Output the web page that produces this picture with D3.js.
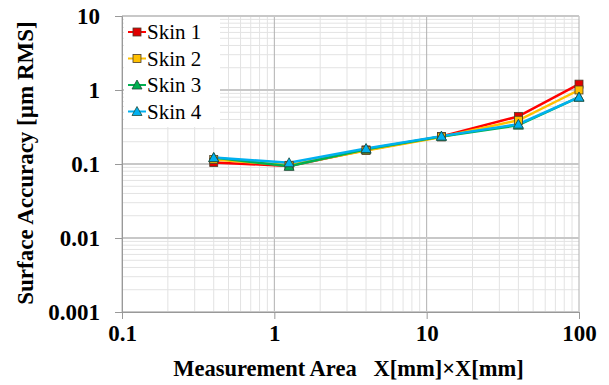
<!DOCTYPE html>
<html>
<head>
<script src="https://d3js.org/d3.v7.min.js"></script>
<style>
  body { margin: 0; background: #fff; }
</style>
</head>
<body>
<div id="chart"></div>
<script>
  // measurement areas (mm) and RMS accuracy per skin
  var areas = [0.4, 1.25, 4, 12.5, 40, 100];
  var skin1 = [0.105, 0.094, 0.155, 0.235, 0.44, 1.2];
  var skin2 = [0.115, 0.096, 0.152, 0.232, 0.39, 1.0];
  var skin3 = [0.122, 0.093, 0.158, 0.236, 0.335, 0.8];
  var skin4 = [0.122, 0.104, 0.162, 0.238, 0.345, 0.8];
  var seriesNames = ["Skin 1", "Skin 2", "Skin 3", "Skin 4"];
  var xTicks = [0.1, 1, 10, 100];
  var yTicks = [0.001, 0.01, 0.1, 1, 10];

  var serif = "'Liberation Serif', Tinos, 'Times New Roman', 'DejaVu Serif', serif";

  var series = [
    { name: seriesNames[0], values: skin1, color: "#ff0000", fill: "#e00000", shape: "square" },
    { name: seriesNames[1], values: skin2, color: "#ffc000", fill: "#ffc000", shape: "square" },
    { name: seriesNames[2], values: skin3, color: "#00b050", fill: "#00b050", shape: "triangle" },
    { name: seriesNames[3], values: skin4, color: "#00b0f0", fill: "#00b0f0", shape: "triangle" }
  ];

  var W = 609, H = 385;
  var margin = { top: 16, right: 30, bottom: 73, left: 122 };
  var width = W - margin.left - margin.right;
  var height = H - margin.top - margin.bottom;

  var svg = d3.select("#chart").append("svg")
    .attr("width", W).attr("height", H);
  var g = svg.append("g")
    .attr("transform", "translate(" + margin.left + "," + margin.top + ")");

  var x = d3.scaleLog().domain([0.1, 100]).range([0, width]);
  var y = d3.scaleLog().domain([0.001, 10]).range([height, 0]);

  // minor grid
  var minorX = [], minorY = [];
  [0.1, 1, 10].forEach(function(d) {
    for (var k = 2; k <= 9; k++) minorX.push(d * k);
  });
  [0.001, 0.01, 0.1, 1].forEach(function(d) {
    for (var k = 2; k <= 9; k++) minorY.push(d * k);
  });

  g.selectAll(".mx").data(minorX).enter().append("line")
    .attr("x1", function(d) { return x(d); }).attr("x2", function(d) { return x(d); })
    .attr("y1", 0).attr("y2", height)
    .attr("stroke", "#e3e3e3").attr("stroke-width", 1);
  g.selectAll(".my").data(minorY).enter().append("line")
    .attr("y1", function(d) { return y(d); }).attr("y2", function(d) { return y(d); })
    .attr("x1", 0).attr("x2", width)
    .attr("stroke", "#e3e3e3").attr("stroke-width", 1);

  // major grid
  g.selectAll(".Mx").data(xTicks).enter().append("line")
    .attr("x1", function(d) { return x(d); }).attr("x2", function(d) { return x(d); })
    .attr("y1", 0).attr("y2", height)
    .attr("stroke", "#b0b0b0").attr("stroke-width", 1);
  g.selectAll(".My").data(yTicks).enter().append("line")
    .attr("y1", function(d) { return y(d); }).attr("y2", function(d) { return y(d); })
    .attr("x1", 0).attr("x2", width)
    .attr("stroke", "#c8c8c8").attr("stroke-width", 2);

  var fmt = function(d) { return String(d); };

  var xAxis = g.append("g")
    .attr("transform", "translate(0," + height + ")")
    .call(d3.axisBottom(x).tickValues(xTicks).tickFormat(fmt).tickSize(7).tickPadding(6));
  var yAxis = g.append("g")
    .call(d3.axisLeft(y).tickValues(yTicks).tickFormat(fmt).tickSize(7).tickPadding(15));

  [xAxis, yAxis].forEach(function(a) {
    a.attr("font-family", null);
    a.select(".domain").attr("stroke", "#999");
    a.selectAll(".tick line").attr("stroke", "#999");
    a.selectAll("text")
      .attr("fill", "#000")
      .style("font-size", "23px")
      .style("font-weight", "bold")
      .style("font-family", serif);
  });

  // lines
  var line = d3.line()
    .x(function(d, i) { return x(areas[i]); })
    .y(function(d) { return y(d); });

  series.forEach(function(s) {
    g.append("path")
      .datum(s.values)
      .attr("fill", "none")
      .attr("stroke", s.color)
      .attr("stroke-width", 2.5)
      .attr("d", line);
  });

  function marker(sel, s) {
    if (s.shape === "square") {
      sel.append("rect")
        .attr("x", -4).attr("y", -4).attr("width", 8).attr("height", 8)
        .attr("fill", s.fill).attr("stroke", "#4a3a2a").attr("stroke-width", 0.8);
    } else {
      sel.append("path")
        .attr("d", "M0,-5L5,4L-5,4Z")
        .attr("fill", s.fill).attr("stroke", "#1f4a3a").attr("stroke-width", 0.8);
    }
  }

  series.forEach(function(s) {
    s.values.forEach(function(v, i) {
      var m = g.append("g")
        .attr("transform", "translate(" + x(areas[i]) + "," + y(v) + ")");
      marker(m, s);
    });
  });

  // legend
  var leg = g.append("g").attr("transform", "translate(2,1)");
  leg.append("rect")
    .attr("x", 0).attr("y", 0).attr("width", 96).attr("height", 110)
    .attr("fill", "#fff");
  series.forEach(function(s, i) {
    var row = leg.append("g").attr("transform", "translate(0," + (15 + i * 26.5) + ")");
    row.append("line").attr("x1", 4).attr("x2", 22).attr("y1", 0).attr("y2", 0)
      .attr("stroke", s.color).attr("stroke-width", 2);
    var m = row.append("g").attr("transform", "translate(13,0)");
    marker(m, s);
    row.append("text").attr("x", 23).attr("y", 7)
      .style("font-family", serif)
      .style("font-weight", "normal")
      .style("font-size", "21px").text(s.name);
  });

  // axis titles
  svg.append("text")
    .attr("x", margin.left + width / 2 - 2).attr("y", H - 9)
    .attr("text-anchor", "middle")
    .style("font-family", serif)
    .style("font-size", "22.5px").style("font-weight", "bold")
    .attr("xml:space", "preserve")
    .text("Measurement Area   X[mm]\u00d7X[mm]");

  svg.append("text")
    .attr("transform", "translate(33,163) rotate(-90)")
    .attr("text-anchor", "middle")
    .style("font-family", serif)
    .style("font-size", "23px").style("font-weight", "bold")
    .text("Surface Accuracy [\u00b5m RMS]");
</script>
</body>
</html>
